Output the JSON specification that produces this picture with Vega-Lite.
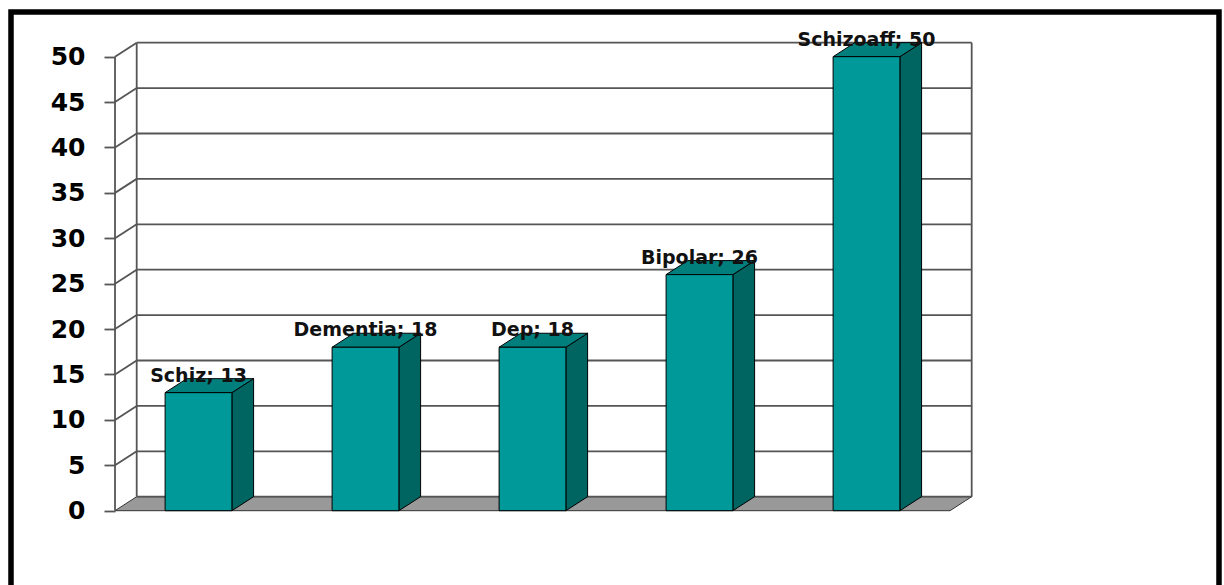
{
  "$schema": "https://vega.github.io/schema/vega-lite/v6.json",
  "width": 1208,
  "height": 580,
  "autosize": "none",
  "padding": {"left": 11, "top": 12, "right": 5, "bottom": -7},
  "background": "white",
  "view": {"stroke": "black", "strokeWidth": 5.5, "fill": "white"},
  "datasets": {
    "bars": [
      {"category": "Schiz", "value": 13},
      {"category": "Dementia", "value": 18},
      {"category": "Dep", "value": 18},
      {"category": "Bipolar", "value": 26},
      {"category": "Schizoaff", "value": 50}
    ],
    "ticks": [
      {"tick": 0}, {"tick": 5}, {"tick": 10}, {"tick": 15}, {"tick": 20}, {"tick": 25},
      {"tick": 30}, {"tick": 35}, {"tick": 40}, {"tick": 45}, {"tick": 50}
    ]
  },
  "encoding": {
    "x": {"field": "px", "type": "quantitative", "stack": null,
      "scale": {"domain": [-0.6228, 6.6108], "nice": false, "zero": false}, "axis": null},
    "y": {"field": "py", "type": "quantitative", "stack": null,
      "scale": {"domain": [-8.954, 54.92], "nice": false, "zero": false},
      "axis": {"values": [0, 5, 10, 15, 20, 25, 30, 35, 40, 45, 50], "offset": -104,
        "domain": false, "grid": false, "tickSize": 11, "tickColor": "#555555", "tickWidth": 1.8,
        "labelFont": "DejaVu Sans", "labelFontWeight": "bold", "labelFontSize": 25,
        "labelColor": "#000000", "labelPadding": 19, "title": null,
        "labelOverlap": false, "labelBound": false, "labelFlush": false}}
  },
  "layer": [
    {
      "data": {"name": "ticks"},
      "transform": [
        {"filter": "datum.tick == 0"},
        {"calculate": "0", "as": "f0"},
        {"calculate": "1", "as": "f1"},
        {"fold": ["f0", "f1"], "as": ["k", "e"]},
        {"calculate": "datum.e * 1.542", "as": "py"},
        {"calculate": "datum.e * 0.1299", "as": "px"},
        {"calculate": "5 + datum.e * 0.1299", "as": "px2"}
      ],
      "mark": {"type": "area", "orient": "horizontal", "fill": "#999999", "stroke": "#333333", "strokeWidth": 1},
      "encoding": {"x2": {"field": "px2"}}
    },
    {
      "data": {"name": "ticks"},
      "transform": [
        {"calculate": "0.1299", "as": "px"},
        {"calculate": "5.1299", "as": "px2"},
        {"calculate": "datum.tick + 1.542", "as": "py"}
      ],
      "mark": {"type": "rule", "stroke": "#555555", "strokeWidth": 1.8},
      "encoding": {"x2": {"field": "px2"}}
    },
    {
      "data": {"name": "ticks"},
      "transform": [
        {"filter": "datum.tick > 0"},
        {"calculate": "0", "as": "px"},
        {"calculate": "0.1299", "as": "px2"},
        {"calculate": "datum.tick", "as": "py"},
        {"calculate": "datum.tick + 1.542", "as": "py2"}
      ],
      "mark": {"type": "rule", "stroke": "#555555", "strokeWidth": 1.8},
      "encoding": {"x2": {"field": "px2"}, "y2": {"field": "py2"}}
    },
    {
      "data": {"name": "ticks"},
      "transform": [
        {"filter": "datum.tick == 0"},
        {"calculate": "0.1299", "as": "a"},
        {"calculate": "5.1299", "as": "b"},
        {"fold": ["a", "b"], "as": ["k", "px"]},
        {"calculate": "1.542", "as": "py"},
        {"calculate": "51.542", "as": "py2"}
      ],
      "mark": {"type": "rule", "stroke": "#555555", "strokeWidth": 1.8},
      "encoding": {"y2": {"field": "py2"}}
    },
    {
      "data": {"name": "ticks"},
      "transform": [
        {"filter": "datum.tick == 0"},
        {"calculate": "0", "as": "px"},
        {"calculate": "0", "as": "py"},
        {"calculate": "50", "as": "py2"}
      ],
      "mark": {"type": "rule", "stroke": "#555555", "strokeWidth": 1.8},
      "encoding": {"y2": {"field": "py2"}}
    },
    {
      "data": {"name": "bars"},
      "transform": [
        {"window": [{"op": "row_number", "as": "idx"}]},
        {"calculate": "0", "as": "f0"},
        {"calculate": "1", "as": "f1"},
        {"fold": ["f0", "f1"], "as": ["k", "e"]},
        {"calculate": "datum.idx - 1 + 0.7 + datum.e * 0.1299", "as": "px"},
        {"calculate": "datum.value + datum.e * 1.542", "as": "py"},
        {"calculate": "datum.e * 1.542", "as": "py2"}
      ],
      "mark": {"type": "area", "orient": "vertical", "fill": "#006461", "stroke": "#000000", "strokeWidth": 1},
      "encoding": {"y2": {"field": "py2"}, "detail": {"field": "category"}}
    },
    {
      "data": {"name": "bars"},
      "transform": [
        {"window": [{"op": "row_number", "as": "idx"}]},
        {"calculate": "0", "as": "f0"},
        {"calculate": "1", "as": "f1"},
        {"fold": ["f0", "f1"], "as": ["k", "e"]},
        {"calculate": "datum.idx - 1 + 0.3 + datum.e * 0.1299", "as": "px"},
        {"calculate": "datum.idx - 1 + 0.7 + datum.e * 0.1299", "as": "px2"},
        {"calculate": "datum.value + datum.e * 1.542", "as": "py"}
      ],
      "mark": {"type": "area", "orient": "horizontal", "fill": "#007f7c", "stroke": "#000000", "strokeWidth": 1},
      "encoding": {"x2": {"field": "px2"}, "detail": {"field": "category"}}
    },
    {
      "data": {"name": "bars"},
      "transform": [
        {"window": [{"op": "row_number", "as": "idx"}]},
        {"calculate": "datum.idx - 1 + 0.3", "as": "px"},
        {"calculate": "datum.idx - 1 + 0.7", "as": "px2"},
        {"calculate": "datum.value", "as": "py"},
        {"calculate": "0", "as": "py2"}
      ],
      "mark": {"type": "rect", "fill": "#009999", "stroke": "#000000", "strokeWidth": 1},
      "encoding": {"x2": {"field": "px2"}, "y2": {"field": "py2"}}
    },
    {
      "data": {"name": "bars"},
      "transform": [
        {"window": [{"op": "row_number", "as": "idx"}]},
        {"calculate": "datum.idx - 1 + 0.5", "as": "px"},
        {"calculate": "datum.value", "as": "py"},
        {"calculate": "datum.category + '; ' + datum.value", "as": "label"}
      ],
      "mark": {"type": "text", "font": "DejaVu Sans", "fontWeight": "bold", "fontSize": 19,
        "baseline": "alphabetic", "align": "center", "dy": -11, "color": "#111111"},
      "encoding": {"text": {"field": "label"}}
    }
  ]
}
